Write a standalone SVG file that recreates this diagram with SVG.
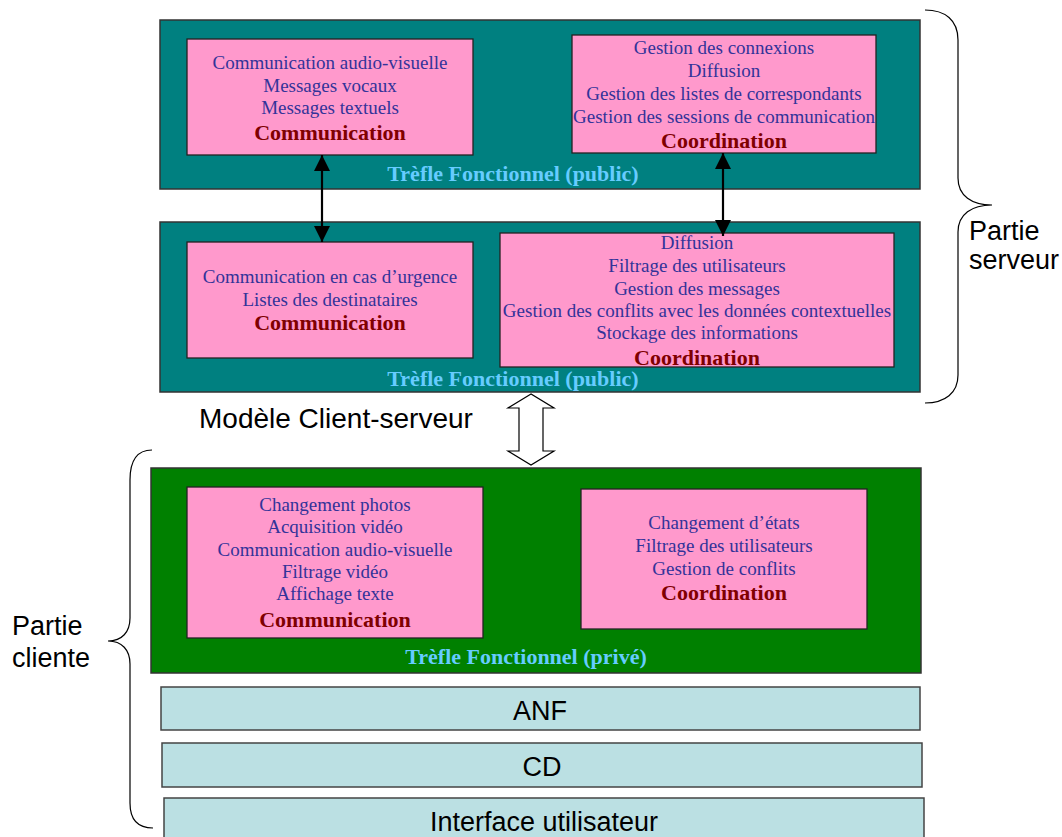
<svg xmlns="http://www.w3.org/2000/svg" width="1062" height="837" viewBox="0 0 1062 837">
<style>
.teal{fill:#008080;stroke:#333;stroke-width:1.5}
.green{fill:#008000;stroke:#333;stroke-width:1.5}
.pink{fill:#FF99CC;stroke:#222;stroke-width:1.3}
.layer{fill:#BBE0E3;stroke:#444;stroke-width:1.5}
.t{font-family:"Liberation Serif","Times New Roman",serif;font-size:19px;fill:#333399;text-anchor:middle}
.b{font-family:"Liberation Serif","Times New Roman",serif;font-size:22px;font-weight:bold;fill:#800000;text-anchor:middle}
.lbl{font-family:"Liberation Serif","Times New Roman",serif;font-size:22px;font-weight:bold;fill:#66CCFF;text-anchor:middle}
.s{font-family:"Liberation Sans",Arial,sans-serif;font-size:27px;fill:#000}
.brace{fill:none;stroke:#000;stroke-width:1.2}
.conn{stroke:#000;stroke-width:2.2;fill:none}
</style>
<defs>
<marker id="ah" viewBox="0 0 16 16" refX="16" refY="8" markerWidth="16" markerHeight="16" orient="auto-start-reverse" markerUnits="userSpaceOnUse">
<path d="M0,0 L16,8 L0,16 z" fill="#000"/>
</marker>
</defs>

<g id="serveur-public-1">
<rect class="teal" x="160" y="20" width="760" height="169"/>
<text class="lbl" x="513" y="181">Trèfle Fonctionnel (public)</text>
</g>
<g id="comm-1">
<rect class="pink" x="187" y="39" width="286" height="116"/>
<text class="t" x="330" y="69">Communication audio-visuelle</text>
<text class="t" x="330" y="92">Messages vocaux</text>
<text class="t" x="330" y="114">Messages textuels</text>
<text class="b" x="330" y="140">Communication</text>
</g>
<g id="coord-1">
<rect class="pink" x="572" y="35" width="304" height="118"/>
<text class="t" x="724" y="54">Gestion des connexions</text>
<text class="t" x="724" y="77">Diffusion</text>
<text class="t" x="724" y="100">Gestion des listes de correspondants</text>
<text class="t" x="724" y="123">Gestion des sessions de communication</text>
<text class="b" x="724" y="148">Coordination</text>
</g>

<g id="serveur-public-2">
<rect class="teal" x="160" y="222" width="760" height="170"/>
<text class="lbl" x="513" y="386">Trèfle Fonctionnel (public)</text>
</g>
<g id="comm-2">
<rect class="pink" x="187" y="242" width="286" height="116"/>
<text class="t" x="330" y="283">Communication en cas d’urgence</text>
<text class="t" x="330" y="306">Listes des destinataires</text>
<text class="b" x="330" y="330">Communication</text>
</g>
<g id="coord-2">
<rect class="pink" x="500" y="233" width="394" height="134"/>
<text class="t" x="697" y="249">Diffusion</text>
<text class="t" x="697" y="272">Filtrage des utilisateurs</text>
<text class="t" x="697" y="295">Gestion des messages</text>
<text class="t" x="697" y="317">Gestion des conflits avec les données contextuelles</text>
<text class="t" x="697" y="339">Stockage des informations</text>
<text class="b" x="697" y="365">Coordination</text>
</g>

<g id="client-prive">
<rect class="green" x="151" y="468" width="770" height="205"/>
<text class="lbl" x="526" y="664">Trèfle Fonctionnel (privé)</text>
</g>
<g id="comm-3">
<rect class="pink" x="187" y="487" width="296" height="151"/>
<text class="t" x="335" y="511">Changement photos</text>
<text class="t" x="335" y="533">Acquisition vidéo</text>
<text class="t" x="335" y="556">Communication audio-visuelle</text>
<text class="t" x="335" y="578">Filtrage vidéo</text>
<text class="t" x="335" y="600">Affichage texte</text>
<text class="b" x="335" y="627">Communication</text>
</g>
<g id="coord-3">
<rect class="pink" x="581" y="489" width="286" height="140"/>
<text class="t" x="724" y="529">Changement d’états</text>
<text class="t" x="724" y="552">Filtrage des utilisateurs</text>
<text class="t" x="724" y="575">Gestion de conflits</text>
<text class="b" x="724" y="600">Coordination</text>
</g>

<g id="anf">
<rect class="layer" x="161" y="687" width="759" height="43"/>
<text class="s" x="540" y="720" text-anchor="middle">ANF</text>
</g>
<g id="cd">
<rect class="layer" x="162" y="743" width="760" height="44"/>
<text class="s" x="542" y="776" text-anchor="middle">CD</text>
</g>
<g id="interface">
<rect class="layer" x="164" y="798" width="760" height="45"/>
<text class="s" x="544" y="831" text-anchor="middle">Interface utilisateur</text>
</g>

<g id="partie-serveur">
<path class="brace" d="M925,10 C945,10 958,20 958,40 L958,178 C958,196 972,205 992,205 C972,205 958,214 958,232 L958,375 C958,393 945,403 925,403"/>
<text class="s" x="969" y="240">Partie</text>
<text class="s" x="969" y="269">serveur</text>
</g>
<g id="partie-cliente">
<path class="brace" d="M152,450 C138,450 130,460 130,480 L130,618 C130,632 122,641 108,641 C122,641 130,650 130,664 L130,803 C130,820 138,828 153,828"/>
<text class="s" x="12" y="635">Partie</text>
<text class="s" x="12" y="667">cliente</text>
</g>
<g id="modele">
<text class="s" x="199" y="428" style="font-size:28px">Modèle Client-serveur</text>
</g>

<g id="connectors">
<line class="conn" x1="322" y1="155" x2="322" y2="242" marker-start="url(#ah)" marker-end="url(#ah)"/>
<line class="conn" x1="723" y1="153" x2="723" y2="236" marker-start="url(#ah)" marker-end="url(#ah)"/>
<polygon points="531,394 508,408 519,408 519,451 508,451 531,465 554,451 543,451 543,408 554,408" fill="#fff" stroke="#000" stroke-width="1.2"/>
</g>
</svg>
